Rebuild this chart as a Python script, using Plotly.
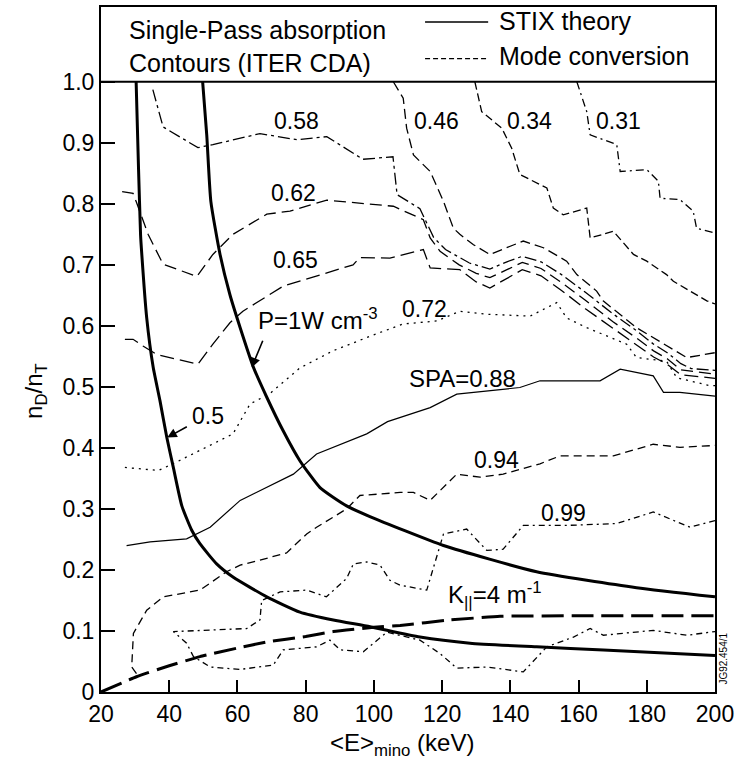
import plotly.graph_objects as go

FONT = "Liberation Sans, Arial, Helvetica, sans-serif"

# ---------------- data ----------------
x_ticks = [20, 40, 60, 80, 100, 120, 140, 160, 180, 200]
y_ticks = [0, 0.1, 0.2, 0.3, 0.4, 0.5, 0.6, 0.7, 0.8, 0.9, 1.0]
y_tick_text = ["0", "0.1", "0.2", "0.3", "0.4", "0.5", "0.6", "0.7", "0.8", "0.9", "1.0"]

# STIX theory, P = 0.5 W cm^-3
stix05_x = [30.3, 31.0, 31.6, 31.9, 33.4, 35.3, 37.3, 39.3, 41.2, 43.7, 46.6, 49.0, 53.9, 58.8,
            68.6, 78.3, 88.1, 98.9, 113.5, 128.2, 147.7, 167.3, 200]
stix05_y = [1.0, 0.858, 0.749, 0.722, 0.613, 0.532, 0.477, 0.417, 0.368, 0.305, 0.265, 0.243, 0.210,
            0.188, 0.156, 0.131, 0.118, 0.107, 0.090, 0.080, 0.074, 0.069, 0.060]
# STIX theory, P = 1 W cm^-3
stix1_x = [49.8, 51.0, 52.2, 54.9, 57.8, 60.8, 64.7, 68.6, 73.4, 78.3, 84.2, 92.0, 99.0, 120.4,
           147.7, 177.0, 200]
stix1_y = [1.0, 0.913, 0.804, 0.717, 0.651, 0.597, 0.532, 0.483, 0.428, 0.379, 0.335, 0.305, 0.287,
           0.240, 0.197, 0.171, 0.156]
# K|| = 4 m^-1 (mode conversion)
kpar_x = [20, 30.4, 40, 49, 60, 68.6, 80, 88.1, 100, 107.7, 122.3, 137, 160, 200]
kpar_y = [0, 0.025, 0.043, 0.058, 0.072, 0.082, 0.091, 0.099, 0.106, 0.109, 0.118, 0.124, 0.125, 0.125]

# single-pass absorption contours
c058_x = [35.2, 38.2, 48.4, 52.8, 66.6, 77.4, 86.2, 96.8, 105.6, 106.8, 113.5, 117.5, 121.0, 128,
          134, 139, 143.5, 149, 155, 162, 170, 177, 182, 186, 190, 193, 200]
c058_y = [0.987, 0.926, 0.892, 0.897, 0.915, 0.905, 0.910, 0.873, 0.877, 0.815, 0.792, 0.745, 0.725,
          0.703, 0.693, 0.705, 0.714, 0.705, 0.684, 0.655, 0.620, 0.592, 0.570, 0.556, 0.538, 0.530,
          0.527]
c062_x = [26.2, 29.4, 30.5, 33.8, 38.2, 48.1, 52.8, 58.7, 68.6, 75.4, 86.2, 105.7, 114.5, 116.5,
          119.4, 125, 130, 134, 139, 143.5, 149, 155, 162, 170, 177, 182, 186, 190, 200]
c062_y = [0.820, 0.817, 0.801, 0.750, 0.701, 0.681, 0.717, 0.750, 0.783, 0.788, 0.806, 0.796, 0.774,
          0.744, 0.722, 0.700, 0.686, 0.679, 0.692, 0.704, 0.694, 0.671, 0.642, 0.607, 0.580, 0.559,
          0.546, 0.528, 0.521]
c065_x = [27, 29.4, 32.3, 36.4, 48.4, 52.8, 57.8, 61.6, 73.4, 84.2, 93.9, 95.9, 104.7, 114.5, 116.5,
          125.2, 130, 134, 139, 143.5, 149, 155, 162, 170, 177, 182, 186, 190, 200]
c065_y = [0.578, 0.578, 0.567, 0.553, 0.537, 0.570, 0.605, 0.624, 0.665, 0.684, 0.700, 0.712, 0.711,
          0.725, 0.695, 0.692, 0.672, 0.662, 0.678, 0.692, 0.682, 0.658, 0.628, 0.596, 0.568, 0.549,
          0.537, 0.520, 0.514]
c046_x = [105.7, 108.6, 109.6, 111.6, 116.5, 120.4, 123.3, 125.2, 129.2, 134.0, 143.8, 149.7, 156.5,
          159.5, 165.3, 167.2, 177, 186.8, 191.7, 200]
c046_y = [1.0, 0.973, 0.924, 0.880, 0.853, 0.804, 0.760, 0.750, 0.733, 0.717, 0.739, 0.728, 0.706,
          0.684, 0.657, 0.641, 0.597, 0.564, 0.548, 0.556]
c034_x = [129.6, 131.6, 137.5, 140.4, 142.8, 148.7, 150.7, 152.6, 155.5, 162.4, 163.4, 170.2, 176.1,
          180, 185.8, 187.8, 197.6, 200]
c034_y = [1.0, 0.951, 0.924, 0.891, 0.848, 0.831, 0.826, 0.793, 0.782, 0.793, 0.744, 0.755, 0.717,
          0.706, 0.684, 0.673, 0.641, 0.636]
c031_x = [159.5, 162.4, 163.4, 171.2, 172.2, 180, 183.4, 183.9, 189.7, 193.6, 194.6, 198.5, 200]
c031_y = [1.0, 0.951, 0.913, 0.897, 0.853, 0.856, 0.837, 0.809, 0.807, 0.788, 0.760, 0.755, 0.752]
c072_x = [27, 36.8, 41.1, 58.7, 63.7, 69.5, 78.3, 88, 98.9, 108.5, 118.4, 125.2, 133.1, 145.8, 153.6,
          156.5, 162.4, 174.1, 177, 185.8, 188.8, 198.5, 200]
c072_y = [0.368, 0.363, 0.374, 0.423, 0.472, 0.489, 0.531, 0.559, 0.583, 0.603, 0.608, 0.624, 0.619,
          0.616, 0.638, 0.613, 0.597, 0.570, 0.548, 0.542, 0.515, 0.502, 0.502]
c088_x = [27.5, 34.4, 45.1, 52, 60.8, 68.6, 76.4, 83.2, 90.1, 97.9, 104, 116.5, 124.3, 142.8, 148.7,
          166.3, 172.2, 181.9, 184.9, 189.7, 200]
c088_y = [0.240, 0.246, 0.251, 0.270, 0.314, 0.335, 0.357, 0.390, 0.406, 0.423, 0.443, 0.466, 0.488,
          0.499, 0.510, 0.510, 0.529, 0.518, 0.491, 0.491, 0.485]
c094_x = [30.4, 29.0, 29.5, 33.4, 38.3, 49, 56.8, 60.8, 66.6, 74.4, 80.3, 83.2, 92, 95.9, 107.7,
          111.6, 116.5, 124.3, 131.1, 137.9, 148.7, 154.6, 170.2, 181.9, 189.7, 200]
c094_y = [0.030, 0.041, 0.096, 0.134, 0.156, 0.167, 0.197, 0.208, 0.216, 0.228, 0.259, 0.270, 0.300,
          0.322, 0.327, 0.327, 0.314, 0.357, 0.352, 0.357, 0.374, 0.387, 0.387, 0.406, 0.401, 0.404]
c099_x = [200, 192.7, 181.9, 171.2, 156.5, 143.8, 137.9, 133.1, 127.2, 120.4, 115.5, 107.7, 104.7,
          101.8, 97.9, 94, 92, 86.1, 80.3, 72.5, 67.1, 66.6, 62.7, 41.2,
          45.1, 47.1, 52, 60.8, 70.5, 73.4, 83.2, 87.1, 90.1, 96.9, 103.8, 113.5, 119.4, 124.3, 133.1,
          143.8, 150.7, 158.5, 163.4, 167.3, 181.9, 191.7, 200]
c099_y = [0.281, 0.270, 0.295, 0.276, 0.273, 0.273, 0.234, 0.232, 0.267, 0.259, 0.167, 0.175, 0.183,
          0.208, 0.213, 0.210, 0.186, 0.156, 0.167, 0.164, 0.150, 0.118, 0.104, 0.099,
          0.080, 0.058, 0.041, 0.037, 0.044, 0.069, 0.074, 0.085, 0.069, 0.066, 0.098, 0.085, 0.063,
          0.039, 0.041, 0.033, 0.074, 0.090, 0.104, 0.093, 0.101, 0.093, 0.099]

# ---------------- figure ----------------
fig = go.Figure()

def thin(x, y, dash, width=1.3):
    fig.add_trace(go.Scatter(x=x, y=y, mode="lines", showlegend=False, hoverinfo="skip",
                             line=dict(color="black", width=width, dash=dash)))

thin(c058_x, c058_y, "12px,4px,3px,4px")
thin(c062_x, c062_y, "12px,6px")
thin(c065_x, c065_y, "14px,6px")
thin(c046_x, c046_y, "10px,5px")
thin(c034_x, c034_y, "8px,4px")
thin(c031_x, c031_y, "8px,4px,2px,4px")
thin(c072_x, c072_y, "2px,5px")
thin(c088_x, c088_y, "solid", 1.2)
thin(c094_x, c094_y, "8px,5px")
thin(c099_x, c099_y, "6px,4px,2px,4px")

fig.add_trace(go.Scatter(x=stix05_x, y=stix05_y, mode="lines", showlegend=False, hoverinfo="skip",
                         line=dict(color="black", width=3, shape="spline", smoothing=0.5)))
fig.add_trace(go.Scatter(x=stix1_x, y=stix1_y, mode="lines", showlegend=False, hoverinfo="skip",
                         line=dict(color="black", width=3, shape="spline", smoothing=0.5)))
fig.add_trace(go.Scatter(x=kpar_x, y=kpar_y, mode="lines", showlegend=False, hoverinfo="skip",
                         line=dict(color="black", width=3, dash="22px,8px", shape="spline",
                                   smoothing=0.4)))

YTOP = 1.1225

# header separator line at y = 1.0
fig.add_shape(type="line", xref="paper", yref="y", x0=0, x1=1, y0=1.0, y1=1.0,
              line=dict(color="black", width=2))
# legend samples
fig.add_shape(type="line", xref="x", yref="y", x0=115, x1=133.5, y0=1.098, y1=1.098,
              line=dict(color="black", width=1.5))
fig.add_shape(type="line", xref="x", yref="y", x0=115, x1=133.5, y0=1.038, y1=1.038,
              line=dict(color="black", width=1.2, dash="5px,3px"))

def label(text, x, y, size=23, xanchor="center"):
    fig.add_annotation(x=x, y=y, xref="x", yref="y", text=text, showarrow=False,
                       xanchor=xanchor, yanchor="middle", font=dict(family=FONT, size=size,
                                                                   color="black"))

label("Single-Pass absorption", 27.6, 1.085, 25, "left")
label("Contours (ITER CDA)", 27.6, 1.031, 25, "left")
label("STIX theory", 136.2, 1.099, 25, "left")
label("Mode conversion", 136.2, 1.042, 25, "left")

label("0.58", 77.3, 0.936)
label("0.62", 76.4, 0.818)
label("0.65", 76.9, 0.708)
label("0.46", 118.4, 0.935)
label("0.34", 145.5, 0.935)
label("0.31", 171.6, 0.935)
label("0.72", 114.7, 0.627)
label("SPA=0.88", 126.0, 0.514, 24)
label("0.94", 135.8, 0.380)
label("0.99", 155.6, 0.293)
label("0.5", 51.4, 0.453)
label("P=1W cm<sup>-3</sup>", 83.6, 0.612, 24)
label("K<sub>||</sub>=4 m<sup>-1</sup>", 135.4, 0.159, 24)

# arrows to the STIX curves
fig.add_annotation(x=39.4, y=0.417, ax=45.6, ay=0.436, xref="x", yref="y", axref="x", ayref="y",
                   text="", showarrow=True, arrowhead=2, arrowsize=1.2, arrowwidth=1.6,
                   arrowcolor="black")
fig.add_annotation(x=64.2, y=0.532, ax=67.6, ay=0.578, xref="x", yref="y", axref="x", ayref="y",
                   text="", showarrow=True, arrowhead=2, arrowsize=1.2, arrowwidth=1.6,
                   arrowcolor="black")

# axis titles
fig.add_annotation(x=-0.107, y=0.44, xref="paper", yref="paper", text="n<sub>D</sub>/n<sub>T</sub>",
                   showarrow=False, textangle=-90, xanchor="center", yanchor="middle",
                   font=dict(family=FONT, size=24, color="black"))
fig.add_annotation(x=0.49, y=-0.077, xref="paper", yref="paper",
                   text="&lt;E&gt;<sub>mino</sub> (keV)", showarrow=False,
                   xanchor="center", yanchor="middle",
                   font=dict(family=FONT, size=24, color="black"))
fig.add_annotation(x=1, y=0.048, xref="paper", yref="paper", xshift=1, text="JG92.454/1",
                   showarrow=False, textangle=-90, xanchor="left", yanchor="middle",
                   font=dict(family=FONT, size=10, color="black"))

fig.update_xaxes(range=[20, 200], tickvals=x_ticks, ticks="inside", ticklen=12, tickwidth=2,
                 tickcolor="black", showline=True, linewidth=2, linecolor="black", mirror=True,
                 showgrid=False, zeroline=False,
                 tickfont=dict(family=FONT, size=23, color="black"))
fig.update_yaxes(range=[0, YTOP], tickvals=y_ticks, ticktext=y_tick_text, ticks="inside",
                 ticklen=14, tickwidth=2, tickcolor="black", showline=True, linewidth=2,
                 linecolor="black", mirror=True, showgrid=False, zeroline=False,
                 tickfont=dict(family=FONT, size=23, color="black"))

fig.update_layout(width=739, height=768, margin=dict(l=101, r=24, t=5, b=76),
                  paper_bgcolor="white", plot_bgcolor="white", showlegend=False)

fig.write_html("out.html")
